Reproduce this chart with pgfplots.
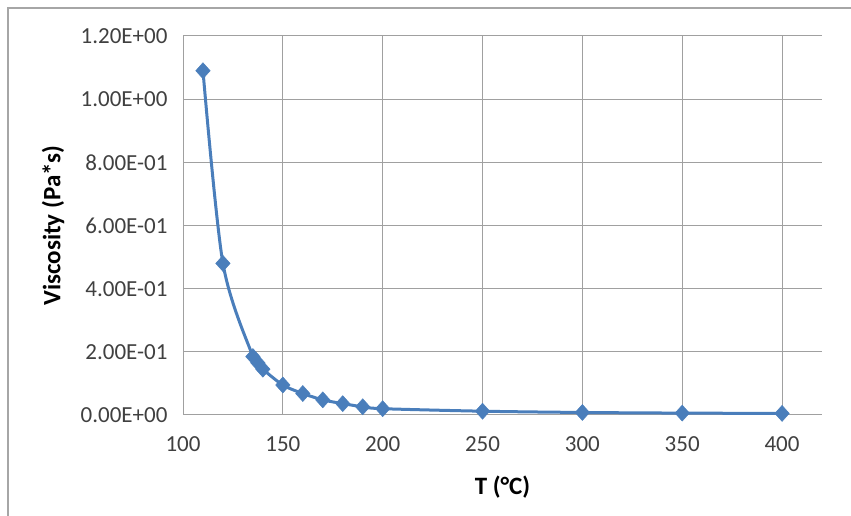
\documentclass[border=0pt]{standalone}
\usepackage{pgfplots}
\pgfplotsset{compat=1.18}
\usepackage{fontspec}
\setmainfont{Carlito}
\definecolor{linecol}{RGB}{74,126,187}
\definecolor{gridcol}{RGB}{160,160,160}
\definecolor{labcol}{RGB}{64,64,64}
\begin{document}
\begin{tikzpicture}[x=1pt,y=1pt]
\useasboundingbox (0,0) rectangle (851,516);
\draw[gray!70, line width=1.5pt] (8,0) -- (8,508) -- (851,508);
\begin{axis}[
  at={(183pt,101pt)}, anchor=south west,
  scale only axis, width=639pt, height=379pt,
  xmin=100, xmax=420, ymin=0, ymax=1.2,
  xtick={100,150,200,250,300,350,400},
  ytick={0,0.2,0.4,0.6,0.8,1.0,1.2},
  yticklabels={0.00E+00,2.00E-01,4.00E-01,6.00E-01,8.00E-01,1.00E+00,1.20E+00},
  /pgf/number format/assume math mode=true,
  axis lines=left, axis line style={-, draw=gridcol, line width=1pt},
  major tick length=0pt,
  grid=major, grid style={draw=gridcol, line width=1pt},
  tick label style={font=\fontsize{23}{27}\selectfont, text=labcol},
  yticklabel style={xshift=-12pt},
  xticklabel style={yshift=-18pt},
  xlabel={T (°C)}, ylabel={Viscosity (Pa*s)},
  label style={font=\fontsize{25}{30}\selectfont\bfseries, text=black},
  xlabel style={at={(axis description cs:0.5,-0.19)}, anchor=center},
  ylabel style={at={(axis description cs:-0.2034,0.5)}, anchor=center},
  clip=false,
]
\addplot[color=linecol, line width=3pt, smooth, mark=diamond*, mark size=8pt,
  mark options={fill=linecol, draw=linecol, line width=0.5pt, xscale=1.2}]
coordinates {
(110,1.09) (120,0.48) (135,0.185) (137.5,0.165) (140,0.145)
(150,0.095) (160,0.068) (170,0.048) (180,0.036) (190,0.026)
(200,0.02) (250,0.012) (300,0.008) (350,0.006) (400,0.005)
};
\end{axis}
\end{tikzpicture}
\end{document}
